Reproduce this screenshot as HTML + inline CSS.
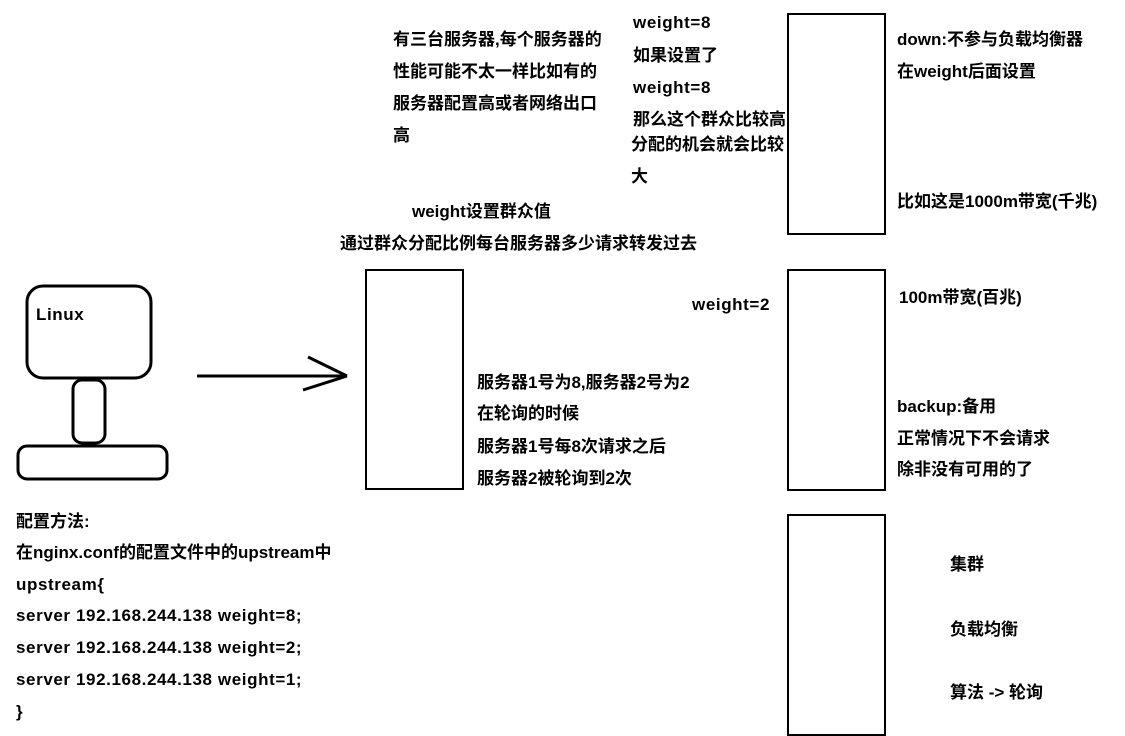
<!DOCTYPE html>
<html><head><meta charset="utf-8"><style>
body{margin:0;width:1125px;height:734px;background:#fff;position:relative;overflow:hidden;font-family:"Liberation Sans","Noto Sans CJK SC",sans-serif;font-weight:bold;font-size:17px;letter-spacing:0;color:#000}
.t{position:absolute;white-space:nowrap;line-height:20px;height:20px}
.l{letter-spacing:0.6px}
.b{position:absolute;border:2px solid #000;box-sizing:border-box}
</style></head><body>
<svg width="1125" height="734" style="position:absolute;left:0;top:0" fill="none" stroke="#000" stroke-width="3">
<rect x="27" y="286" width="124" height="92" rx="16"/>
<rect x="73" y="380" width="32" height="63" rx="9"/>
<rect x="18" y="446" width="149" height="33" rx="9"/>
<line x1="197" y1="376" x2="347" y2="376"/>
<line x1="308" y1="357" x2="347" y2="376"/>
<line x1="303" y1="390" x2="347" y2="376"/>
</svg>
<div class="b" style="left:787px;top:13px;width:99px;height:222px"></div>
<div class="b" style="left:365px;top:269px;width:99px;height:221px"></div>
<div class="b" style="left:787px;top:269px;width:99px;height:222px"></div>
<div class="b" style="left:787px;top:514px;width:99px;height:222px"></div>

<div class="t l" style="left:36px;top:305px">Linux</div>

<div class="t" style="left:393px;top:30px">有三台服务器,每个服务器的</div>
<div class="t" style="left:393px;top:62px">性能可能不太一样比如有的</div>
<div class="t" style="left:393px;top:94px">服务器配置高或者网络出口</div>
<div class="t" style="left:393px;top:126px">高</div>

<div class="t l" style="left:633px;top:13px">weight=8</div>
<div class="t" style="left:633px;top:46px">如果设置了</div>
<div class="t l" style="left:633px;top:78px">weight=8</div>
<div class="t" style="left:633px;top:110px">那么这个群众比较高</div>
<div class="t" style="left:631px;top:135px">分配的机会就会比较</div>
<div class="t" style="left:631px;top:167px">大</div>

<div class="t" style="left:412px;top:202px">weight设置群众值</div>
<div class="t" style="left:340px;top:234px">通过群众分配比例每台服务器多少请求转发过去</div>

<div class="t l" style="left:692px;top:295px">weight=2</div>

<div class="t" style="left:477px;top:373px">服务器1号为8,服务器2号为2</div>
<div class="t" style="left:477px;top:404px">在轮询的时候</div>
<div class="t" style="left:477px;top:437px">服务器1号每8次请求之后</div>
<div class="t" style="left:477px;top:469px">服务器2被轮询到2次</div>

<div class="t" style="left:897px;top:30px">down:不参与负载均衡器</div>
<div class="t" style="left:897px;top:62px">在weight后面设置</div>
<div class="t" style="left:897px;top:192px">比如这是1000m带宽(千兆)</div>
<div class="t" style="left:899px;top:288px">100m带宽(百兆)</div>
<div class="t" style="left:897px;top:397px">backup:备用</div>
<div class="t" style="left:897px;top:429px">正常情况下不会请求</div>
<div class="t" style="left:897px;top:460px">除非没有可用的了</div>

<div class="t" style="left:16px;top:512px">配置方法:</div>
<div class="t" style="left:16px;top:543px">在nginx.conf的配置文件中的upstream中</div>
<div class="t l" style="left:16px;top:575px">upstream{</div>
<div class="t l" style="left:16px;top:606px">server 192.168.244.138 weight=8;</div>
<div class="t l" style="left:16px;top:638px">server 192.168.244.138 weight=2;</div>
<div class="t l" style="left:16px;top:670px">server 192.168.244.138 weight=1;</div>
<div class="t" style="left:16px;top:702px">}</div>

<div class="t" style="left:950px;top:555px">集群</div>
<div class="t" style="left:950px;top:620px">负载均衡</div>
<div class="t" style="left:950px;top:683px">算法 -&gt; 轮询</div>
</body></html>
